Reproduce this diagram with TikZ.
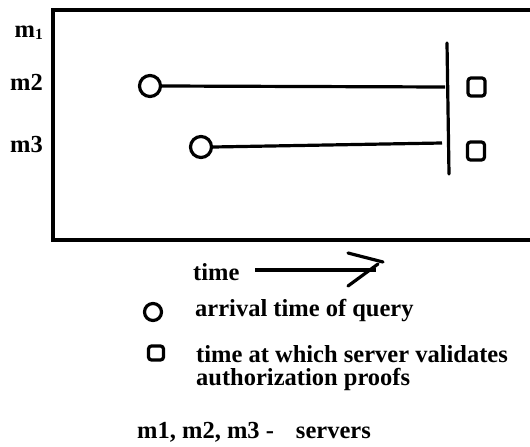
\documentclass[tikz,border=0pt]{standalone}
\usepackage{fontspec}
\setmainfont{Liberation Serif}
\begin{document}
\begin{tikzpicture}[x=1pt,y=-1pt,
  txt/.style={font=\fontsize{24.5}{23}\selectfont\bfseries, inner sep=0pt},
  lbl/.style={txt, anchor=base east},
  leg/.style={txt, anchor=base west},
  arr/.style={circle, draw, line width=3.2pt, minimum size=21pt, inner sep=0pt},
  val/.style={rectangle, rounded corners=3pt, draw, line width=3.2pt, minimum width=17pt, minimum height=18pt, inner sep=0pt},
  larr/.style={circle, draw, line width=3.2pt, minimum size=17pt, inner sep=0pt},
  lval/.style={rectangle, rounded corners=3pt, draw, line width=3.2pt, minimum width=15pt, minimum height=14pt, inner sep=0pt},
  ln/.style={line width=3.2pt},
  frm/.style={line width=3.4pt}]
\useasboundingbox (0,0) rectangle (530,447);
% frame (right side cut off)
\coordinate (ftr) at (533,10);
\coordinate (ftl) at (53,10);
\coordinate (fbl) at (53,240);
\coordinate (fbr) at (533,240);
\draw[frm] (ftr) -- (ftl) -- (fbl) -- (fbr);
% server labels
\node[lbl] (m1) at (43,37) {m\raisebox{-0.22ex}{\fontsize{15.5}{15}\selectfont 1}};
\node[lbl] (m2) at (43,90) {m2};
\node[lbl] (m3) at (43,152) {m3};
% arrivals
\node[arr] (a2) at (150,86) {};
\node[arr] (a3) at (201,147) {};
% validation bar
\coordinate (vt) at (447,43);
\coordinate (vb) at (449,174);
\draw[ln, line cap=round] (vt) -- (vb);
\coordinate (e2) at (445,87);
\coordinate (e3) at (442,143);
\draw[ln] (a2.east) -- (e2);
\draw[ln] (a3.east) -- (e3);
% validation squares
\node[val] (s2) at (476.5,87) {};
\node[val] (s3) at (476,151) {};
% time arrow
\node[leg] (time) at (193,280) {time};
\coordinate (ts) at (255,270);
\coordinate (te) at (376,270);
\draw[ln] (ts) -- (te);
\coordinate (h1a) at (348,253);
\coordinate (h1b) at (383,262);
\coordinate (h2a) at (348,286);
\coordinate (h2b) at (378,264);
\draw[ln, line cap=round] (h1a) -- (h1b);
\draw[ln, line cap=round] (h2a) -- (h2b);
% legend
\node[larr] (la) at (153,312) {};
\node[leg] (ta) at (195,316) {arrival time of query};
\node[lval] (lv) at (156,353) {};
\node[txt, anchor=north west, align=left] (tv) at (196,345) {time at which server validates\\authorization proofs};
\node[leg] (srv) at (137,438) {m1, m2, m3 -\hspace{0.9em}servers};
\end{tikzpicture}
\end{document}
